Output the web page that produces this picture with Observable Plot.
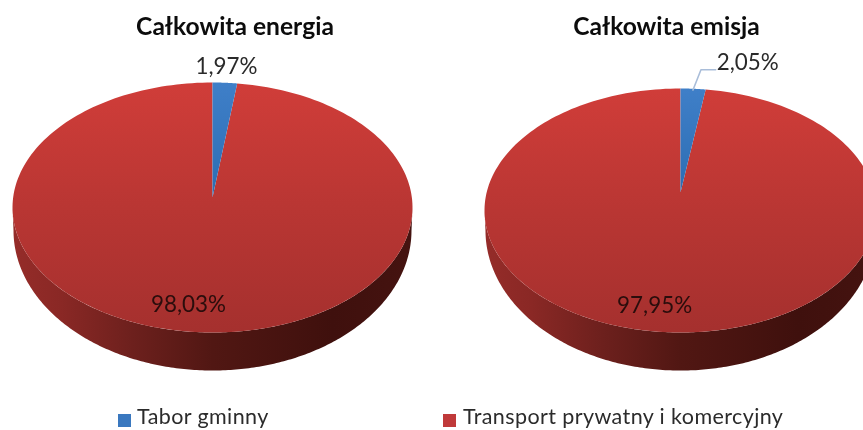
<!DOCTYPE html>
<html lang="pl">
<head>
<meta charset="utf-8">
<script src="https://cdn.jsdelivr.net/npm/d3@7"></script>
<script src="https://cdn.jsdelivr.net/npm/@observablehq/plot@0.6"></script>
<style>
html,body{margin:0;padding:0;background:#fff;overflow:hidden}
#page{position:relative;width:863px;height:430px;overflow:hidden;font-family:Lato,"Open Sans",sans-serif;color:#111;filter:blur(.45px)}
.panel{position:absolute;top:0}
.panel svg{display:block;overflow:hidden;background:transparent}
.title{position:absolute;top:12px;font-weight:700;font-size:24.6px;line-height:28px;text-align:center;white-space:nowrap;color:#0c0c0c}
.legend{position:absolute;top:405px;font-size:21.5px;line-height:22px;white-space:nowrap;letter-spacing:.4px;color:#2b2b2b}
.swatch{position:absolute;top:414px;width:13px;height:13px}
</style>
</head>
<body>
<div id="page"></div>
<script>
const categories = ["Tabor gminny", "Transport prywatny i komercyjny"];
const titles = ["Całkowita energia", "Całkowita emisja"];
const energyValues = [1.97, 98.03];
const emissionValues = [2.05, 97.95];
const energyLabels = ["1,97%", "98,03%"];
const emissionLabels = ["2,05%", "97,95%"];

const page = document.getElementById("page");
const unit = (a, r = 1) => [r * Math.sin(a), r * Math.cos(a)];

function pieChart(cfg) {
  const total = d3.sum(cfg.values);
  const angle = d3.scaleLinear([0, total], [0, 2 * Math.PI]);
  const stops = d3.cumsum(cfg.values);
  const starts = [0, ...stops.slice(0, -1)];
  const apex = cfg.apex;

  // top faces: one closed outline per category
  const faces = cfg.values.flatMap((v, i) => {
    const a0 = angle(starts[i]), a1 = angle(stops[i]);
    const rim = d3.range(0, 241).map(k => unit(a0 + (a1 - a0) * k / 240));
    return [[0, apex], ...rim, [0, apex]].map(([x, y]) => ({x, y, k: i}));
  });

  // side wall: front half of the rim, closed by the smaller lower rim seen in perspective
  const front = d3.range(0, 241).map(k => unit(Math.PI / 2 + Math.PI * k / 240));
  const wall = [
    ...front,
    ...front.slice().reverse().map(([x, y]) => [x * 0.995, cfg.wallCenter + y * cfg.wallRy])
  ].map(([x, y]) => ({x, y}));

  const mids = cfg.values.map((v, i) => angle((starts[i] + stops[i]) / 2));
  const labelData = cfg.labels.map((text, i) => {
    const [x, y] = unit(mids[i], cfg.labelRadius[i]);
    return {x: x + cfg.labelShift[i], y, text};
  });

  const defs = () => {
    const d = d3.create("svg:defs");
    const grad = (id, x2, y2, s) => {
      const g = d.append("linearGradient").attr("id", cfg.id + id)
        .attr("x1", 0).attr("y1", 0).attr("x2", x2).attr("y2", y2);
      s.forEach(([o, c]) => g.append("stop").attr("offset", o).attr("stop-color", c));
    };
    grad("top0", 0, 1, [[0, "#3f7fc8"], [1, "#2c6db3"]]);
    grad("top1", 0, 1, [[0, "#d03d39"], [.5, "#b93633"], [1, "#a5302e"]]);
    grad("wall", 1, 0, [[0, "#952c29"], [.12, "#8a2825"], [.3, "#6d201d"], [.5, "#511713"], [.8, "#3f100d"], [1, "#451310"]]);
    const f = d.append("filter").attr("id", cfg.id + "soft")
      .attr("x", "-5%").attr("y", "-5%").attr("width", "110%").attr("height", "115%");
    f.append("feDropShadow").attr("dx", 0).attr("dy", 1).attr("stdDeviation", 2)
      .attr("flood-color", "#000").attr("flood-opacity", .3);
    return d.node();
  };

  return Plot.plot({
    width: cfg.width,
    height: 400,
    margin: 0,
    style: {background: "transparent", overflow: "hidden"},
    x: {domain: [-1, 1], range: cfg.xRange, axis: null},
    y: {domain: [-1, 1], range: cfg.yRange, axis: null},
    marks: [
      defs,
      Plot.line(wall, {x: "x", y: "y", fill: `url(#${cfg.id}wall)`, stroke: "none", style: {filter: `url(#${cfg.id}soft)`}}),
      Plot.line(faces.filter(d => d.k === 1), {x: "x", y: "y", fill: `url(#${cfg.id}top1)`, stroke: "none"}),
      Plot.line(faces.filter(d => d.k === 0), {x: "x", y: "y", fill: `url(#${cfg.id}top0)`, stroke: "none"}),
      cfg.leader ? Plot.line(cfg.leader(mids[0]), {x: "x", y: "y", stroke: "#a9bdd9", strokeWidth: 1.6, fill: "none"}) : null,
      Plot.text(labelData, {
        x: "x", y: "y", text: "text",
        fontFamily: "Lato, 'Open Sans', sans-serif", fontSize: 22.4,
        fill: (d, i) => i === 0 ? "#2a2a2a" : "#2a0d0c",
        textAnchor: "middle", lineAnchor: "middle"
      })
    ]
  });
}

const charts = [
  {
    id: "a", left: 0, width: 431, title: titles[0], titleCenter: 235,
    values: energyValues, labels: energyLabels,
    xRange: [12, 412], yRange: [332, 82],
    apex: 0.08, wallCenter: -0.184, wallRy: 1.12,
    labelRadius: [1.13, 0.78], labelShift: [0, -0.072]
  },
  {
    id: "b", left: 431, width: 432, title: titles[1], titleCenter: 666.5,
    values: emissionValues, labels: emissionLabels,
    xRange: [484 - 431, 876 - 431], yRange: [332, 88],
    apex: 0.147, wallCenter: -0.164, wallRy: 1.148,
    labelRadius: [1.213, 0.78], labelShift: [0.265, -0.082],
    leader: mid => {
      const [x0, y0] = unit(mid, 0.99);
      const [x1, y1] = unit(mid, 1.156);
      return [{x: x0, y: y0}, {x: x1 + 0.03, y: y1}, {x: x1 + 0.105, y: y1}];
    }
  }
];

charts.forEach(cfg => {
  const wrap = document.createElement("div");
  wrap.className = "panel";
  wrap.style.left = cfg.left + "px";
  wrap.appendChild(pieChart(cfg));
  page.appendChild(wrap);
  const t = document.createElement("div");
  t.className = "title";
  t.textContent = cfg.title;
  t.style.left = (cfg.titleCenter - 150) + "px";
  t.style.width = "300px";
  page.appendChild(t);
});

const legendPlaces = [{swatch: 118, text: 137}, {swatch: 443, text: 463}];
const swatchColors = ["#3a78bf", "#c0393a"];
categories.forEach((c, i) => {
  const s = document.createElement("div");
  s.className = "swatch";
  s.style.left = legendPlaces[i].swatch + "px";
  s.style.background = swatchColors[i];
  page.appendChild(s);
  const l = document.createElement("div");
  l.className = "legend";
  l.style.left = legendPlaces[i].text + "px";
  l.textContent = c;
  page.appendChild(l);
});
</script>
</body>
</html>
